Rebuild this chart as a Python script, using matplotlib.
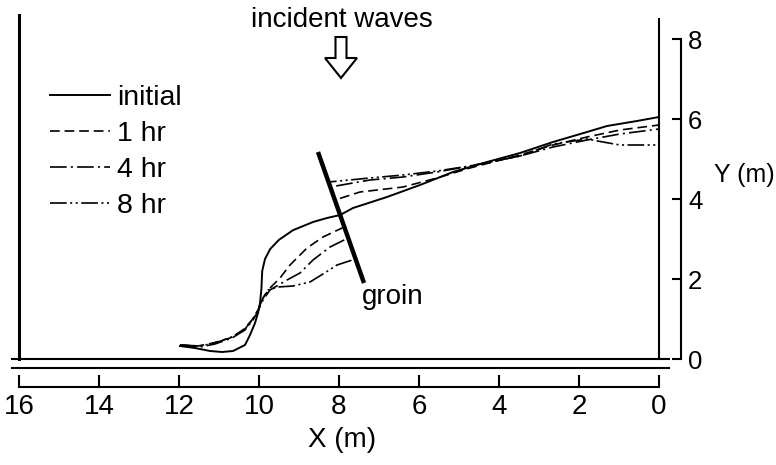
import matplotlib
matplotlib.use("Agg")
import matplotlib.pyplot as plt
from matplotlib.patches import FancyArrow
from matplotlib import font_manager

plt.rcParams["font.family"] = ["Liberation Sans", "DejaVu Sans"]
plt.rcParams["lines.scale_dashes"] = False

installed = {f.name for f in font_manager.fontManager.ttflist}
narrow = "Liberation Sans Narrow" if "Liberation Sans Narrow" in installed else "Liberation Sans"

# shoreline positions (X, Y in m)
initial_x = [11.975, 11.6, 11.225, 10.925, 10.65, 10.35, 10.225, 10.1, 10.025, 9.975, 9.94,
             9.92, 9.85, 9.72, 9.5, 9.15, 8.65, 8.3, 7.97, 7.65, 6.8, 5.975, 5.15, 4.3, 3.475,
             2.65, 1.8, 1.3, 0.55, 0.0]
initial_y = [0.325, 0.275, 0.2, 0.175, 0.2, 0.35, 0.6, 0.9, 1.15, 1.4, 1.75,
             2.2, 2.5, 2.75, 2.98, 3.22, 3.425, 3.525, 3.6, 3.775, 4.05, 4.35, 4.675, 4.925, 5.15,
             5.425, 5.675, 5.825, 5.95, 6.05]

hr1_x = [11.975, 11.525, 11.15, 10.725, 10.4, 10.175, 10.025, 9.9, 9.725, 9.475, 9.225, 8.8,
         8.4, 7.87, 8.10, 7.475, 6.4, 5.55, 4.725, 3.475, 2.65, 1.8, 0.975, 0.0]
hr1_y = [0.35, 0.325, 0.4, 0.525, 0.725, 0.975, 1.225, 1.525, 1.775, 2.025, 2.35, 2.775,
         3.05, 3.3, 3.975, 4.175, 4.3, 4.525, 4.775, 5.1, 5.35, 5.55, 5.725, 5.85]

hr4_x = [11.975, 11.475, 11.1, 10.675, 10.35, 10.15, 10.025, 9.9, 9.725, 9.3, 8.975, 8.65,
         8.225, 7.77, 8.22, 7.225, 6.4, 5.55, 4.725, 3.475, 2.65, 1.8, 0.975, 0.0]
hr4_y = [0.35, 0.3, 0.375, 0.525, 0.725, 0.975, 1.2, 1.475, 1.725, 1.975, 2.15, 2.475,
         2.8, 3.025, 4.3, 4.475, 4.55, 4.675, 4.825, 5.075, 5.3, 5.475, 5.625, 5.75]

hr8_x = [11.975, 11.475, 11.1, 10.675, 10.35, 10.15, 10.025, 9.9, 9.775, 9.525, 9.15, 8.725,
         8.4, 8.05, 7.59, 8.26, 7.225, 6.4, 5.55, 4.725, 3.475, 2.65, 1.8, 1.4, 0.975, 0.0]
hr8_y = [0.35, 0.325, 0.4, 0.55, 0.75, 1.0, 1.225, 1.525, 1.725, 1.8, 1.825, 1.925,
         2.125, 2.35, 2.5, 4.425, 4.525, 4.6, 4.7, 4.825, 5.075, 5.375, 5.5, 5.425, 5.35, 5.35]

groin_x = [8.525, 7.375]
groin_y = [5.175, 1.9]

x_ticks = [0, 2, 4, 6, 8, 10, 12, 14, 16]
y_ticks = [0, 2, 4, 6, 8]

fig = plt.figure(figsize=(7.76, 4.65), dpi=100)
ax = fig.add_axes([19 / 776, 106 / 465, 640 / 776, 344 / 465])
ax.set_xlim(16, 0)
ax.set_ylim(0, 8.6)

# curves
ax.plot(initial_x, initial_y, color="black", lw=1.4, label="initial")
ax.plot(hr1_x, hr1_y, color="black", lw=1.2, ls=(0, (7, 3.5)), label="1 hr")
ax.plot(hr4_x, hr4_y, color="black", lw=1.2, ls=(0, (12, 3, 1.5, 3)), label="4 hr")
ax.plot(hr8_x, hr8_y, color="black", lw=1.2, ls=(0, (12, 2.5, 1.5, 2.5, 1.5, 2.5)), label="8 hr")

# groin
ax.plot(groin_x, groin_y, color="black", lw=3.2, solid_capstyle="butt")
ax.text(7.425, 1.55, "groin", fontsize=20, va="center", ha="left")

# incident waves arrow
ax.add_patch(FancyArrow(7.95, 8.05, 0, -1.025, width=0.275, head_width=0.8, head_length=0.5,
                        length_includes_head=True, fill=False, lw=1.5, ec="black", clip_on=False))
ax.text(7.93, 8.3, "incident waves", fontsize=20, ha="center", va="baseline")

# frame: left border, right border, double bottom line
ax.spines["top"].set_visible(False)
ax.spines["left"].set_linewidth(2.2)
ax.spines["right"].set_bounds(0, 8.5)
ax.spines["right"].set_linewidth(1.5)
ax.plot([16.175, -0.25], [0, 0], color="black", lw=1.5, clip_on=False)
ax.plot([16.175, -0.25], [-0.225, -0.225], color="black", lw=1.5, clip_on=False)

# X axis below the frame
ax.spines["bottom"].set_position(("outward", 20.2))
ax.spines["bottom"].set_bounds(0, 16)
ax.spines["bottom"].set_linewidth(1.5)
ax.set_xticks(x_ticks)
ax.tick_params(axis="x", direction="in", length=8.6, width=1.5, pad=5, labelsize=20)
ax.set_yticks([])
ax.set_xlabel("X (m)", fontsize=20, family=narrow)
ax.xaxis.set_label_coords(0.505, -0.2355)
ax.xaxis.label.set_va("center")

# Y axis to the right of the frame
ax2 = ax.twinx()
ax2.set_ylim(0, 8.6)
for s in ["top", "left", "bottom"]:
    ax2.spines[s].set_visible(False)
ax2.spines["right"].set_position(("outward", 15.8))
ax2.spines["right"].set_bounds(0, 8)
ax2.spines["right"].set_linewidth(1.5)
ax2.set_yticks(y_ticks)
ax2.tick_params(axis="y", direction="in", length=6.5, width=1.5, pad=5, labelsize=18.5)
ax2.set_ylabel("Y (m)", fontsize=18, rotation=0, ha="left", va="center")
ax2.yaxis.set_label_coords(1.086, 0.535)

ax.legend(loc="upper left", bbox_to_anchor=(50 / 776, 0.818), bbox_transform=fig.transFigure,
          frameon=False, fontsize=20.5, handlelength=2.1, handletextpad=0.25,
          labelspacing=0.36, borderpad=0, borderaxespad=0)

fig.savefig("out.png", dpi=100)
